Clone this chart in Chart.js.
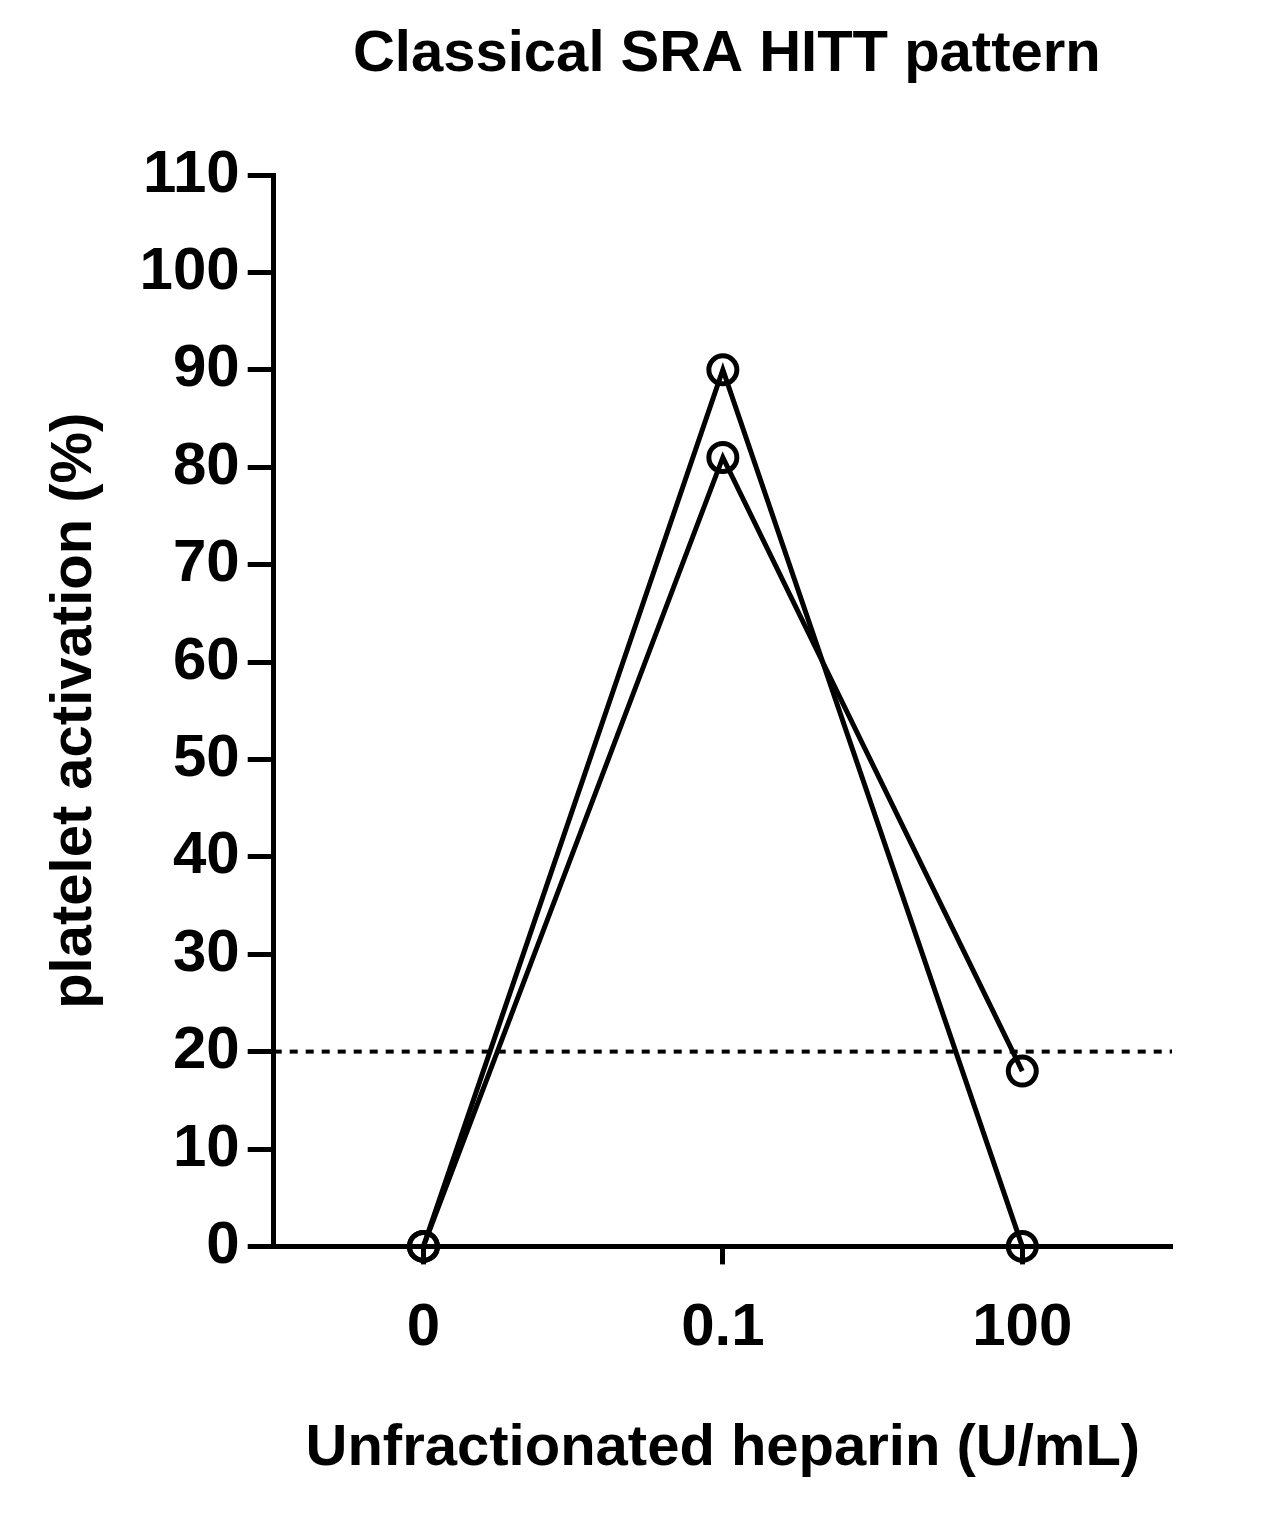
<!DOCTYPE html>
<html><head><meta charset="utf-8">
<script src="https://cdn.jsdelivr.net/npm/chart.js@4"></script>
<style>body{margin:0;background:#fff}</style></head>
<body><canvas id="c" width="1271" height="1513"></canvas>
<script>
const categories = ["0", "0.1", "100"];
const seriesA = [0, 90, 0];
const seriesB = [0, 81, 18];
const threshold = 20;
const yTicks = [0,10,20,30,40,50,60,70,80,90,100,110];
const titleText = 'Classical SRA HITT pattern';

const toPts = arr => arr.map((v,i)=>({x:i,y:v}));
const F = "'Liberation Sans', Arial, sans-serif";
const lineStyle = {borderColor:'#000',borderWidth:5,pointRadius:14,pointBorderWidth:5,pointBackgroundColor:'rgba(0,0,0,0)',pointBorderColor:'#000',showLine:true,tension:0,clip:false};
const titlePlugin = {id:'areaTitle', afterDraw(chart){
  const {ctx, chartArea:a} = chart;
  ctx.save(); ctx.fillStyle='#000'; ctx.font="bold 58px "+F;
  ctx.textAlign='center'; ctx.textBaseline='middle';
  ctx.fillText(titleText,(a.left+a.right)/2+4,55); ctx.restore();
}};
new Chart(document.getElementById('c'), {
  type:'scatter',
  data:{datasets:[
    {data:toPts(seriesA),...lineStyle},
    {data:toPts(seriesB),...lineStyle},
    {data:[{x:-0.5,y:threshold},{x:2.5,y:threshold}],showLine:true,borderColor:'#000',borderWidth:4,borderDash:[8,8],pointRadius:0}
  ]},
  plugins:[titlePlugin],
  options:{
    responsive:false, animation:false,
    layout:{padding:{top:175,right:99,left:36,bottom:25}},
    plugins:{legend:{display:false},tooltip:{enabled:false},title:{display:false}},
    scales:{
      x:{type:'linear',min:-0.5,max:2.5,
        afterBuildTicks:a=>{a.ticks=categories.map((_,i)=>({value:i}));},
        ticks:{callback:v=>categories[v],color:'#000',font:{family:F,size:60,weight:'bold'},padding:28},
        grid:{drawOnChartArea:false,drawTicks:true,tickLength:18,tickWidth:5,color:'#000'},
        border:{color:'#000',width:5},
        title:{display:true,text:'Unfractionated heparin (U/mL)',color:'#000',font:{family:F,size:58,weight:'bold'},padding:{top:22}}},
      y:{min:0,max:110,
        afterBuildTicks:a=>{a.ticks=yTicks.map(v=>({value:v}));},
        ticks:{color:'#000',font:{family:F,size:60,weight:'bold'},padding:8},
        grid:{drawOnChartArea:false,drawTicks:true,tickLength:26,tickWidth:5,color:'#000'},
        border:{color:'#000',width:5},
        title:{display:true,text:'platelet activation (%)',color:'#000',font:{family:F,size:58,weight:'bold'},padding:{bottom:22}}}
    }
  }
});
</script></body></html>
